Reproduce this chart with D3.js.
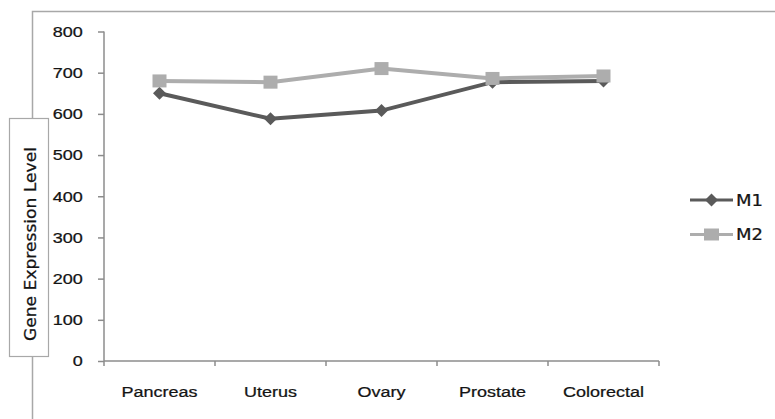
<!DOCTYPE html>
<html>
<head>
<meta charset="utf-8">
<script src="https://cdn.jsdelivr.net/npm/d3@7"></script>
<style>
  html, body { margin: 0; padding: 0; background: #fff; }
  svg { display: block; font-family: "DejaVu Sans", sans-serif; }
</style>
</head>
<body>
<svg id="chart" width="775" height="419"></svg>
<script>
// Tumour types along the x axis
const categories = ["Pancreas", "Uterus", "Ovary", "Prostate", "Colorectal"];
// Expression level per marker
const m1Values = [650, 588, 608, 677, 680];
const m2Values = [680, 677, 710, 686, 692];
const seriesNames = ["M1", "M2"];
const yTicks = [0, 100, 200, 300, 400, 500, 600, 700, 800];
const yTitle = "Gene Expression Level";

const series = [
  { name: seriesNames[0], values: m1Values, color: "#5a5a5a", marker: "diamond" },
  { name: seriesNames[1], values: m2Values, color: "#adadad", marker: "square" }
];

const svg = d3.select("#chart");
const textColor = "#141414";
const axisColor = "#8c8c8c";
const stretch = "scale(1.2,1)";
const fontSize = "15px";

// Outer chart frame (runs past the right and bottom edges)
svg.append("rect")
  .attr("x", 32.5).attr("y", 11.5)
  .attr("width", 900).attr("height", 600)
  .attr("fill", "none")
  .attr("stroke", "#a8a8a8")
  .attr("stroke-width", 1.5);

const plot = { left: 104, right: 659, top: 31.5, bottom: 361 };

const x = d3.scaleBand().domain(categories).range([plot.left, plot.right]);
const y = d3.scaleLinear().domain([0, 800]).range([plot.bottom, plot.top]);

function styleText(sel) {
  sel.attr("fill", textColor)
    .attr("stroke", textColor)
    .attr("stroke-width", 0.25)
    .style("font-size", fontSize);
}

// Y axis
const yAxis = svg.append("g")
  .attr("transform", `translate(${plot.left},0)`)
  .call(d3.axisLeft(y).tickValues(yTicks).tickSize(6).tickPadding(4));
yAxis.select(".domain").attr("stroke", axisColor).attr("stroke-width", 1.5)
  .attr("d", `M0,${plot.top}V${plot.bottom}`);
yAxis.selectAll(".tick line").attr("stroke", axisColor).attr("stroke-width", 1.5);
yAxis.selectAll(".tick text")
  .call(styleText)
  .attr("transform", "translate(-20,0) " + stretch)
  .attr("x", -1);

// X axis
const xAxis = svg.append("g")
  .attr("transform", `translate(0,${plot.bottom})`)
  .call(d3.axisBottom(x).tickSize(0).tickPadding(0));
xAxis.select(".domain").attr("stroke", axisColor).attr("stroke-width", 1.5)
  .attr("d", `M${plot.left},0H${plot.right}`);
xAxis.selectAll(".tick line").remove();
xAxis.selectAll(".tick text")
  .call(styleText)
  .attr("y", 0).attr("dy", 0)
  .attr("transform", "translate(0,36) " + stretch);

// Tick marks on band boundaries
const boundaries = categories.map(c => x(c)).concat([x(categories[categories.length - 1]) + x.bandwidth()]);
svg.append("g").selectAll("line")
  .data(boundaries)
  .join("line")
  .attr("x1", d => d).attr("x2", d => d)
  .attr("y1", plot.bottom).attr("y2", plot.bottom + 5)
  .attr("stroke", axisColor).attr("stroke-width", 1.5);

// Series lines and markers (M2 drawn on top)
const line = d3.line()
  .x((d, i) => x(categories[i]) + x.bandwidth() / 2)
  .y(d => y(d));

const diamond = (cx, cy) => `M${cx},${cy - 6.5}L${cx + 6.5},${cy}L${cx},${cy + 6.5}L${cx - 6.5},${cy}Z`;

series.forEach(s => {
  const g = svg.append("g");
  g.append("path")
    .attr("d", line(s.values))
    .attr("fill", "none")
    .attr("stroke", s.color)
    .attr("stroke-width", 4);
  if (s.marker === "diamond") {
    g.selectAll("path.mk").data(s.values).join("path").attr("class", "mk")
      .attr("d", (d, i) => diamond(x(categories[i]) + x.bandwidth() / 2, y(d)))
      .attr("fill", s.color);
  } else {
    g.selectAll("rect.mk").data(s.values).join("rect").attr("class", "mk")
      .attr("x", (d, i) => x(categories[i]) + x.bandwidth() / 2 - 7)
      .attr("y", d => y(d) - 6.5)
      .attr("width", 14).attr("height", 13)
      .attr("fill", s.color);
  }
});

// Legend
const legend = svg.append("g").attr("transform", "translate(690,200)");
series.forEach((s, i) => {
  const g = legend.append("g").attr("transform", `translate(0,${i * 34.5})`);
  g.append("line").attr("x1", 0).attr("x2", 43).attr("y1", 0).attr("y2", 0)
    .attr("stroke", s.color).attr("stroke-width", 3);
  if (s.marker === "diamond") {
    g.append("path").attr("d", diamond(21.5, 0)).attr("fill", s.color);
  } else {
    g.append("rect").attr("x", 14).attr("y", -6).attr("width", 15).attr("height", 12).attr("fill", s.color);
  }
  g.append("text")
    .call(styleText)
    .attr("transform", "translate(46,5.5) " + stretch)
    .text(s.name);
});

// Y-axis title in a bordered box
svg.append("rect")
  .attr("x", 9.5).attr("y", 118.5)
  .attr("width", 39).attr("height", 238)
  .attr("fill", "#fff")
  .attr("stroke", "#a8a8a8")
  .attr("stroke-width", 1.2);
svg.append("text")
  .attr("transform", "translate(35.5,244) rotate(-90)")
  .attr("text-anchor", "middle")
  .call(styleText)
  .style("font-size", "16px")
  .attr("textLength", 194)
  .attr("lengthAdjust", "spacingAndGlyphs")
  .text(yTitle);
</script>
</body>
</html>
